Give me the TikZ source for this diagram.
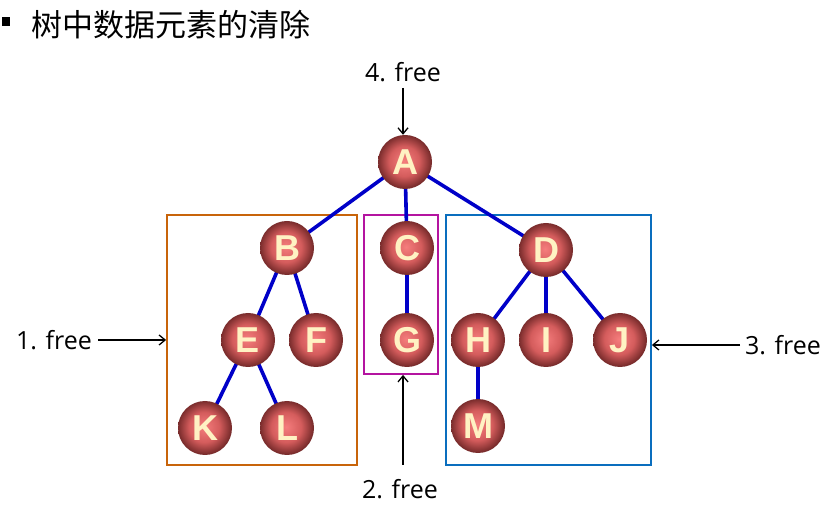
\documentclass[tikz,border=0pt]{standalone}
\usepackage{fontspec}
\setmainfont{Open Sans}
\newfontfamily\cjkfont{Noto Sans CJK SC}
\newfontfamily\ballfamily{Liberation Sans}
\usetikzlibrary{arrows.meta}
\definecolor{ballin}{RGB}{245,125,125}
\definecolor{ballmid}{RGB}{212,92,92}
\definecolor{ballout}{RGB}{118,42,42}
\definecolor{ballfg}{RGB}{255,242,195}
\definecolor{edgeblue}{RGB}{0,0,200}
\definecolor{boxorange}{RGB}{200,100,10}
\definecolor{boxmag}{RGB}{180,20,160}
\definecolor{boxblue}{RGB}{10,110,190}
\pgfdeclareradialshading{myball}{\pgfpoint{-1bp}{1bp}}{color(0bp)=(ballin); color(14bp)=(ballmid); color(25bp)=(ballout); color(50bp)=(ballout)}
\begin{document}
\begin{tikzpicture}[x=1pt,y=-1pt,
  ball/.style={circle, minimum size=54pt, inner sep=0pt, shading=myball, text=ballfg, font=\ballfamily\bfseries\fontsize{36}{36}\selectfont},
  edge/.style={draw=edgeblue, line width=3.6pt},
  grp/.style={draw, line width=1.8pt, rectangle, inner sep=0pt},
  lab/.style={font=\fontsize{25}{25}\selectfont, inner sep=1pt},
  arr/.style={draw=black, line width=1.3pt, -{Straight Barb[length=6pt,width=10pt]}}]
\useasboundingbox (0,0) rectangle (836,510);
% title
\fill (2,17) rectangle (10,26);
\node[anchor=west, inner sep=0pt, font=\cjkfont\fontsize{31}{31}\selectfont] (title) at (31,25) {树中数据元素的清除};
% group boxes
\node[grp, draw=boxorange, minimum width=190pt, minimum height=250pt] (gorange) at (262,340) {};
\node[grp, draw=boxmag, minimum width=74pt, minimum height=159pt] (gmag) at (401,294.5) {};
\node[grp, draw=boxblue, minimum width=205pt, minimum height=250pt] (gblue) at (548.5,340) {};
% node coordinates
\coordinate (pA) at (405,162);
\coordinate (pB) at (287,248);
\coordinate (pC) at (407,248);
\coordinate (pD) at (546,250);
\coordinate (pE) at (248,340);
\coordinate (pF) at (316,340);
\coordinate (pG) at (407,340);
\coordinate (pH) at (478,340);
\coordinate (pI) at (546,340);
\coordinate (pJ) at (620,340);
\coordinate (pK) at (205,428);
\coordinate (pL) at (287,428);
\coordinate (pM) at (478,426);
% edges
\draw[edge] (pA) -- (pB);
\draw[edge] (pA) -- (pC);
\draw[edge] (pA) -- (pD);
\draw[edge] (pB) -- (pE);
\draw[edge] (pB) -- (pF);
\draw[edge] (pE) -- (pK);
\draw[edge] (pE) -- (pL);
\draw[edge] (pC) -- (pG);
\draw[edge] (pD) -- (pH);
\draw[edge] (pD) -- (pI);
\draw[edge] (pD) -- (pJ);
\draw[edge] (pH) -- (pM);
% balls
\node[ball] (A) at (pA) {A};
\node[ball] (B) at (pB) {B};
\node[ball] (C) at (pC) {C};
\node[ball] (D) at (pD) {D};
\node[ball] (E) at (pE) {E};
\node[ball] (F) at (pF) {F};
\node[ball] (G) at (pG) {G};
\node[ball] (H) at (pH) {H};
\node[ball] (I) at (pI) {I};
\node[ball] (J) at (pJ) {J};
\node[ball] (K) at (pK) {K};
\node[ball] (L) at (pL) {L};
\node[ball] (M) at (pM) {M};
% labels and arrows
\node[lab] (l4) at (403,72) {4. free};
\node[lab] (l1) at (54,340) {1. free};
\node[lab] (l3) at (783,345) {3. free};
\node[lab] (l2) at (400,489) {2. free};
\coordinate (s4) at (403,88);
\coordinate (s1) at (98,340);
\coordinate (s3) at (740,345);
\coordinate (s2) at (403,465);
\draw[arr] (s4) -- (s4 |- A.north);
\draw[arr] (s1) -- (s1 -| gorange.west);
\draw[arr] (s3) -- (s3 -| gblue.east);
\draw[arr] (s2) -- (s2 |- gmag.south);
\end{tikzpicture}
\end{document}
